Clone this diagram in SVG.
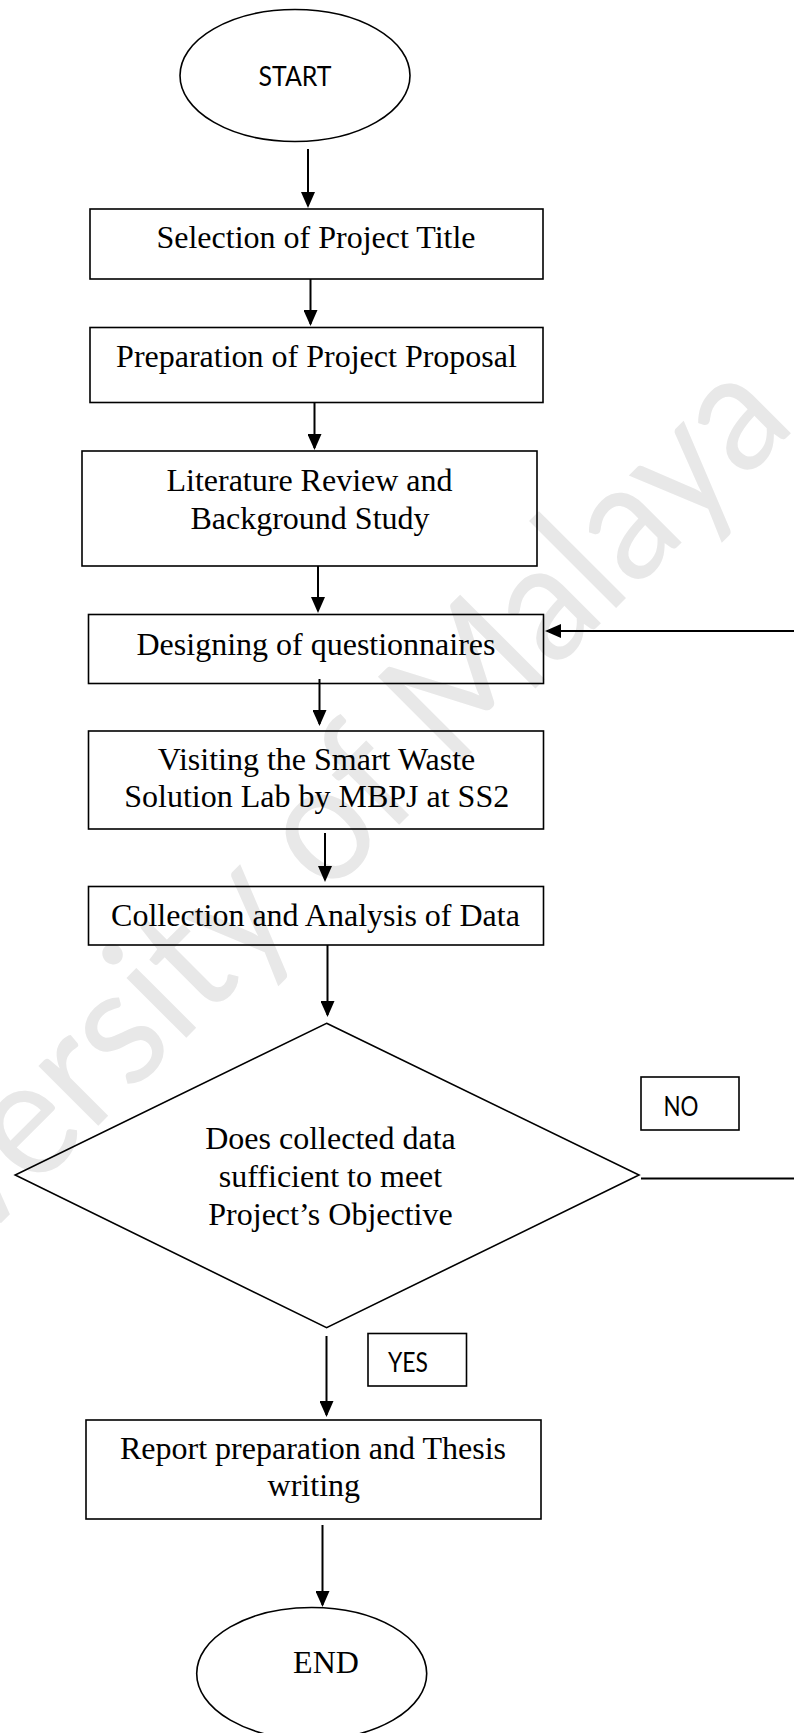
<svg xmlns="http://www.w3.org/2000/svg" width="794" height="1733" viewBox="0 0 794 1733">
<defs>
<marker id="ah" markerUnits="userSpaceOnUse" markerWidth="16" markerHeight="14" refX="14" refY="7" orient="auto">
<path d="M0,0 L16,7 L0,14 z" fill="#000"/>
</marker>
<style>
.box{fill:none;stroke:#000;stroke-width:1.6}
.t{font-family:"Liberation Serif","Times New Roman",serif;font-size:32px;fill:#000;text-anchor:middle}
.s{font-family:Lato,"Liberation Sans",sans-serif;font-size:26px;fill:#000;text-anchor:middle}
.c{stroke:#000;stroke-width:2;fill:none}
.wm{font-family:Lato,"Liberation Sans",sans-serif;font-size:167px;fill:#e8e8e8;text-anchor:end}
</style>
</defs>
<rect width="794" height="1733" fill="#fff"/>
<text class="wm" transform="translate(798,426) rotate(-45)" x="0" y="0" textLength="1398" lengthAdjust="spacingAndGlyphs">University of Malaya</text>
<g id="connectors">
<line class="c" x1="308" y1="149" x2="308" y2="206" marker-end="url(#ah)"/>
<line class="c" x1="310.5" y1="279" x2="310.5" y2="324" marker-end="url(#ah)"/>
<line class="c" x1="314.5" y1="403" x2="314.5" y2="448" marker-end="url(#ah)"/>
<line class="c" x1="318" y1="566" x2="318" y2="611" marker-end="url(#ah)"/>
<line class="c" x1="319.5" y1="679" x2="319.5" y2="724" marker-end="url(#ah)"/>
<line class="c" x1="325" y1="833" x2="325" y2="880" marker-end="url(#ah)"/>
<line class="c" x1="327.5" y1="945" x2="327.5" y2="1015" marker-end="url(#ah)"/>
<line class="c" x1="326.5" y1="1336" x2="326.5" y2="1415" marker-end="url(#ah)"/>
<line class="c" x1="322.5" y1="1525" x2="322.5" y2="1605" marker-end="url(#ah)"/>
<line class="c" x1="641" y1="1178.5" x2="794" y2="1178.5"/>
<line class="c" x1="794" y1="631" x2="547" y2="631" marker-end="url(#ah)"/>
</g>
<g id="start">
<ellipse cx="295" cy="75.5" rx="115" ry="66" fill="none" stroke="#000" stroke-width="1.6"/>
<text class="s" x="295" y="85.7" textLength="73" lengthAdjust="spacingAndGlyphs">START</text>
</g>
<g id="selection">
<rect class="box" x="90" y="209" width="453" height="70"/>
<text class="t" x="316" y="248">Selection of Project Title</text>
</g>
<g id="proposal">
<rect class="box" x="90" y="327.5" width="453" height="75"/>
<text class="t" x="316.5" y="367">Preparation of Project Proposal</text>
</g>
<g id="literature">
<rect class="box" x="82" y="451" width="455" height="115"/>
<text class="t" x="309.5" y="491">Literature Review and</text>
<text class="t" x="310" y="529">Background Study</text>
</g>
<g id="questionnaires">
<rect class="box" x="88.5" y="614.5" width="455" height="69"/>
<text class="t" x="316" y="655">Designing of questionnaires</text>
</g>
<g id="visit">
<rect class="box" x="88.5" y="731" width="455" height="98"/>
<text class="t" x="316.5" y="770">Visiting the Smart Waste</text>
<text class="t" x="316.7" y="807">Solution Lab by MBPJ at SS2</text>
</g>
<g id="collection">
<rect class="box" x="88.5" y="886.5" width="455" height="58.5"/>
<text class="t" x="315.5" y="926">Collection and Analysis of Data</text>
</g>
<g id="decision">
<polygon points="326.6,1023.3 639,1175 326.6,1327.7 15.2,1175" fill="none" stroke="#000" stroke-width="1.6"/>
<text class="t" x="330.5" y="1149">Does collected data</text>
<text class="t" x="330.5" y="1187">sufficient to meet</text>
<text class="t" x="330.5" y="1225">Project’s Objective</text>
</g>
<g id="no">
<rect class="box" x="641" y="1077" width="98" height="53"/>
<text class="s" x="681" y="1116" textLength="35" lengthAdjust="spacingAndGlyphs">NO</text>
</g>
<g id="yes">
<rect class="box" x="368" y="1333.5" width="98.5" height="52.5"/>
<text class="s" x="408" y="1371.7" textLength="40" lengthAdjust="spacingAndGlyphs">YES</text>
</g>
<g id="report">
<rect class="box" x="86" y="1420" width="455" height="99"/>
<text class="t" x="313" y="1459">Report preparation and Thesis</text>
<text class="t" x="313.8" y="1496">writing</text>
</g>
<g id="end">
<ellipse cx="311.7" cy="1673.5" rx="115" ry="66" fill="none" stroke="#000" stroke-width="1.6"/>
<text class="t" x="326" y="1673">END</text>
</g>
</svg>
